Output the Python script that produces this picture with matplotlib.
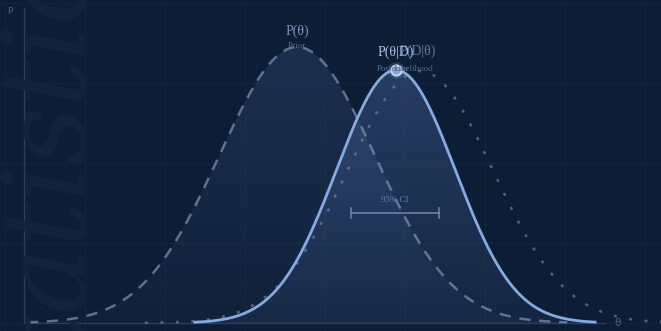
import numpy as np
import matplotlib
matplotlib.use("Agg")
import matplotlib.pyplot as plt
from matplotlib.colors import LinearSegmentedColormap

W, H = 661, 331
BG = "#0e1d36"

# distributions: (mean, sd, peak height, domain lo, domain hi) in theta / density units
prior = dict(mu=4.70, sd=1.34, peak=0.92, lo=0.05, hi=9.35)
likelihood = dict(mu=6.82, sd=1.25, peak=0.84, lo=2.08, hi=11.2)
posterior = dict(mu=6.40, sd=1.02, peak=0.843, lo=2.94, hi=9.83)

ci_low, ci_high = 5.63, 7.14
ci_level = 0.367

labels = {
    "prior": ("P(θ)", "Prior"),
    "likelihood": ("P(D|θ)", "Likelihood"),
    "posterior": ("P(θ|D)", "Posterior"),
}


def curve(d, n=400):
    t = np.linspace(d["lo"], d["hi"], n)
    return t, d["peak"] * np.exp(-0.5 * ((t - d["mu"]) / d["sd"]) ** 2)


fig = plt.figure(figsize=(W / 100, H / 100), dpi=100, facecolor=BG)

# background grid, 80px cells
for gx in range(5, W, 80):
    fig.add_artist(plt.Line2D([gx / W, gx / W], [0, 1], color="#132443", lw=0.8, zorder=0))
for gy in range(3, H, 80):
    fig.add_artist(plt.Line2D([0, 1], [1 - gy / H, 1 - gy / H], color="#132443", lw=0.8, zorder=0))

# big faint watermark
fig.text(0.16, 0.5, "Statistics", rotation=90, ha="right", va="center",
         fontsize=82, family="DejaVu Serif", style="italic",
         color="#14243f", zorder=0)

ax = fig.add_axes([0, 0, 1, 1])
ax.set_facecolor("none")
px = 58.1
ax.set_xlim(-24 / px, (W - 24) / px)
ax.set_ylim(-8 / 300, 323 / 300)
ax.axis("off")


def gradient_fill(t, y, top, bottom):
    poly = ax.fill_between(t, 0, y, color="none", lw=0)
    cmap = LinearSegmentedColormap.from_list("g", [bottom, top])
    grad = np.linspace(0, 1, 256).reshape(-1, 1)
    im = ax.imshow(grad, cmap=cmap, origin="lower", aspect="auto",
                   extent=[t[0], t[-1], 0, y.max()], zorder=1)
    im.set_clip_path(poly.get_paths()[0], transform=ax.transData)


tp, yp = curve(prior)
tl, yl = curve(likelihood)
tq, yq = curve(posterior)

gradient_fill(tp, yp, (0.40, 0.55, 0.80, 0.16), (0.40, 0.55, 0.80, 0.04))
gradient_fill(tq, yq, (0.45, 0.62, 0.90, 0.25), (0.45, 0.62, 0.90, 0.07))

# axes lines
ax.plot([0, 0], [0, 315 / 300], color="#2b3f62", lw=1.0, zorder=2)
ax.plot([0, (605 - 24) / px], [0, 0], color="#2b3f62", lw=1.0, zorder=2)
ax.text(-14 / px, 311 / 300, "P", color="#4f6287", fontsize=6.5,
        family="DejaVu Sans Mono", ha="center", va="center")
ax.text((618 - 24) / px, 0, "θ", color="#4f6287", fontsize=7.5,
        ha="center", va="center")

ax.plot(tp, yp, color="#7c90b3", lw=1.8, alpha=0.72, dashes=(4.5, 3.5), zorder=3)
ax.plot(tl, yl, color="#7c90b3", lw=1.8, alpha=0.6, dashes=(1.2, 5), zorder=3)
ax.plot(tq, yq, color="#86abe0", lw=2.0, zorder=4)

# posterior mode marker
mode_t, mode_y = posterior["mu"], posterior["peak"]
ax.scatter([mode_t], [mode_y], s=150, color="#8db2e6", alpha=0.18, lw=0, zorder=5)
ax.scatter([mode_t], [mode_y], s=55, facecolor="#86a8da", edgecolor="#c2d6f4",
           lw=1.4, zorder=6)

# curve labels
serif = "Liberation Serif"
ax.text(prior["mu"], prior["peak"] + 16 / 300, labels["prior"][0], color="#7d93b8",
        fontsize=10, family=serif, ha="center", va="center", zorder=7)
ax.text(prior["mu"], prior["peak"] + 1 / 300, labels["prior"][1], color="#5a6e92",
        fontsize=6.5, family=serif, ha="center", va="center", zorder=7)
ax.text(likelihood["mu"] - 0.05, likelihood["peak"] + 20 / 300, labels["likelihood"][0],
        color="#62779c", fontsize=10, family=serif, ha="center", va="center", zorder=7)
ax.text(likelihood["mu"] - 0.12, likelihood["peak"] + 2 / 300, labels["likelihood"][1],
        color="#52668a", fontsize=6.5, family=serif, ha="center", va="center", zorder=7)
ax.text(posterior["mu"], posterior["peak"] + 18 / 300, labels["posterior"][0],
        color="#a9c1e6", fontsize=10, family=serif, ha="center", va="center", zorder=8)
ax.text(posterior["mu"] - 0.05, posterior["peak"] + 1 / 300, labels["posterior"][1],
        color="#5f7399", fontsize=6.5, family=serif, ha="center", va="center", zorder=7)

# credible interval bar
ax.plot([ci_low, ci_high], [ci_level, ci_level], color="#7088ae", lw=1.3, alpha=0.85, zorder=5)
for c in (ci_low, ci_high):
    ax.plot([c, c], [ci_level - 5 / 300, ci_level + 5 / 300], color="#7088ae",
            lw=1.3, alpha=0.85, zorder=5)
ax.text((ci_low + ci_high) / 2, ci_level + 13 / 300, "95% CI", color="#6a82a8",
        fontsize=6.5, family=serif, ha="center", va="center", zorder=5)

fig.savefig("out.png", dpi=100, facecolor=BG)
